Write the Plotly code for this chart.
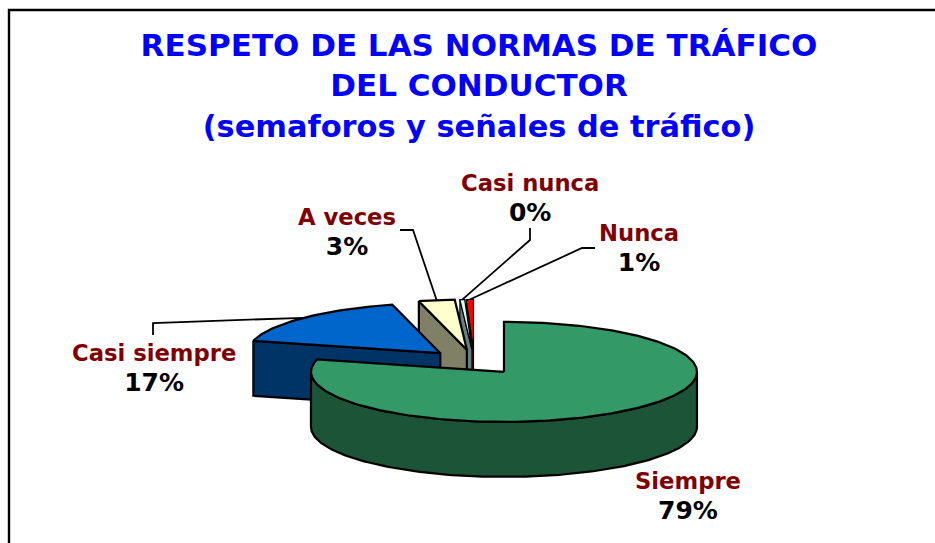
import math
import plotly.graph_objects as go

# ---- data ----
categories = ["Siempre", "Casi siempre", "A veces", "Casi nunca", "Nunca"]
values = [79.0, 17.0, 3.0, 0.4, 0.6]
top_colors = ["#339966", "#0066CC", "#FFFFCC", "#CCFFFF", "#FF0000"]
side_colors = ["#1C5438", "#003366", "#808066", "#668080", "#800000"]
title_lines = ["RESPETO DE LAS NORMAS DE TRÁFICO", "DEL CONDUCTOR",
               "<span style='font-size:30.4px'>(semaforos y señales de tráfico)</span>"]

# ---- style / projection settings ----
W, H = 935, 543
CX, CY, RX, RY = 474.4, 362.0, 193.0, 50.0
DEPTH, EXPLODE = 55.0, 0.25
FONT = "DejaVu Sans"

label_pos = {"Siempre": (688, 496), "Casi siempre": (154, 368), "A veces": (347, 232),
             "Casi nunca": (530, 198), "Nunca": (639, 248)}
leader_start = {"Casi siempre": (153, 335, 153, 323), "A veces": (400, 230, 413, 230),
                "Casi nunca": (530, 228, 530, 240), "Nunca": (595, 248, 582, 248)}


def proj(theta, apex):
    return apex[0] + RX * math.sin(theta), apex[1] - RY * math.cos(theta)


total = sum(values)
slices = []
acc = 0.0
for v in values:
    a0 = acc / total * 2 * math.pi
    acc += v
    a1 = acc / total * 2 * math.pi
    mid = (a0 + a1) / 2
    apex = (CX + EXPLODE * RX * math.sin(mid), CY - EXPLODE * RY * math.cos(mid))
    slices.append((a0, a1, apex))


def arc(a0, a1, apex):
    n = max(2, int((a1 - a0) / 0.02))
    return [proj(a0 + (a1 - a0) * i / n, apex) for i in range(n + 1)]


def poly(pts, color, width):
    xs = [p[0] for p in pts] + [pts[0][0]]
    ys = [p[1] for p in pts] + [pts[0][1]]
    return go.Scatter(x=xs, y=ys, mode="lines", fill="toself", fillcolor=color,
                      line=dict(color="black", width=width),
                      hoverinfo="skip", showlegend=False)


fig = go.Figure()
# painted back to front: right-hand slivers first, big front slice last
for i in [4, 3, 2, 1, 0]:
    a0, a1, apex = slices[i]
    rim = arc(a0, a1, apex)
    lw = 1.2 if values[i] < 1 else 2.2
    if a1 - a0 > math.pi:  # front slice: curved outer wall
        front = arc(math.pi / 2, 3 * math.pi / 2, apex)
        wall = front + [(x, y + DEPTH) for x, y in reversed(front)]
    else:  # back slices: flat cut face below the leading radial edge
        s = rim[0]
        wall = [s, apex, (apex[0], apex[1] + DEPTH), (s[0], s[1] + DEPTH)]
    fig.add_trace(poly(wall, side_colors[i], lw))
    fig.add_trace(poly([apex] + rim, top_colors[i], lw))

# leader lines: elbow set by layout, end follows the slice's rim
for i, cat in enumerate(categories):
    if cat not in leader_start:
        continue
    a0, a1, apex = slices[i]
    ex, ey = proj((a0 + a1) / 2, apex)
    x0, y0, x1, y1 = leader_start[cat]
    fig.add_trace(go.Scatter(x=[x0, x1, ex], y=[y0, y1, ey], mode="lines",
                             line=dict(color="black", width=1.8),
                             hoverinfo="skip", showlegend=False))

# labels
for cat, v in zip(categories, values):
    x, y = label_pos[cat]
    fig.add_annotation(x=x, y=y, xref="x", yref="y", showarrow=False, align="center",
                       text=(f"<span style='color:#800000'>{cat}</span><br>"
                             f"<span style='font-size:25px'>{round(v)}%</span>"),
                       font=dict(family=FONT, size=22.7, color="black", weight="bold"))

# chart frame (only top and left edges are inside the crop)
fig.add_trace(go.Scatter(x=[9, 9, W], y=[H, 10, 10], mode="lines",
                         line=dict(color="black", width=2.4),
                         hoverinfo="skip", showlegend=False))

fig.update_layout(
    width=W, height=H, margin=dict(l=0, r=0, t=0, b=0),
    paper_bgcolor="white", plot_bgcolor="white", showlegend=False,
    title=dict(text="<br>".join(title_lines), x=479 / W, xanchor="center",
               y=1 - 56 / H, yanchor="middle",
               font=dict(family=FONT, size=31, color="#0000FF", weight="bold")),
    xaxis=dict(range=[0, W], visible=False, fixedrange=True),
    yaxis=dict(range=[H, 0], visible=False, fixedrange=True),
)
fig.write_html("out.html", config={"displayModeBar": False},
               post_script="document.body.style.margin='0';")
